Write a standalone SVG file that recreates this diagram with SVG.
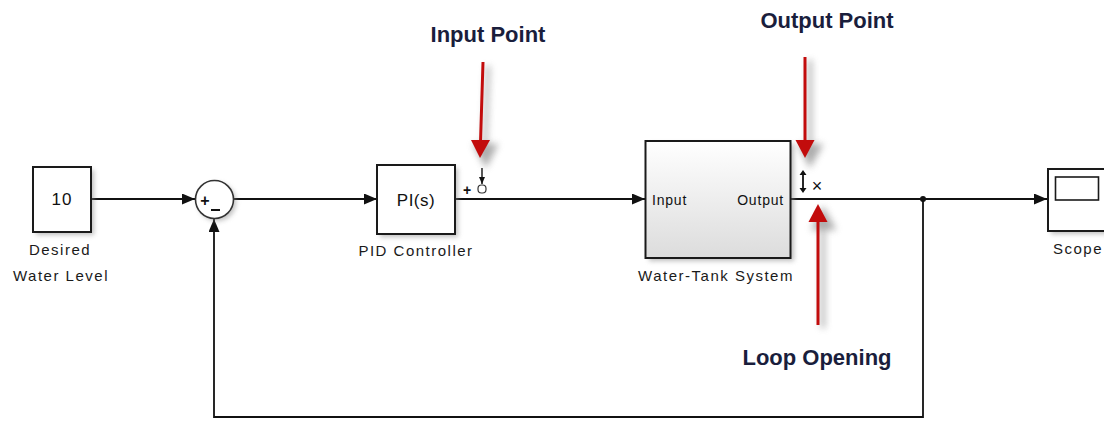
<svg xmlns="http://www.w3.org/2000/svg" width="1104" height="421" viewBox="0 0 1104 421">
<defs>
<style>
.blk{fill:#fff;stroke:#1a1a1a;stroke-width:2}
.lbl{font-family:"Liberation Sans",Arial,sans-serif;font-size:15px;letter-spacing:1.5px;fill:#1a1a1a;text-anchor:middle}
.in{font-family:"Liberation Sans",Arial,sans-serif;font-size:17px;fill:#111;text-anchor:middle}
.port{font-family:"Liberation Sans",Arial,sans-serif;font-size:14px;letter-spacing:0.8px;fill:#111}
.ann{font-family:"Liberation Sans",Arial,sans-serif;font-size:22px;font-weight:bold;fill:#1a1e3c;text-anchor:middle}
.wire{fill:none;stroke:#111;stroke-width:1.8}
.red{stroke:#c20c0c;stroke-width:3;fill:none}
.redh{fill:#c20c0c}
.sh{fill:#888;opacity:0.55;filter:url(#blur)}
</style>
<filter id="blur" x="-30%" y="-30%" width="160%" height="160%"><feGaussianBlur stdDeviation="2.5"/></filter>
<filter id="blur2" x="-50%" y="-50%" width="200%" height="200%"><feGaussianBlur stdDeviation="3.5"/></filter>
<linearGradient id="tank" x1="0" y1="0" x2="0" y2="1"><stop offset="0" stop-color="#ffffff"/><stop offset="1" stop-color="#dcdcdc"/></linearGradient>
<marker id="ah" markerWidth="13" markerHeight="11" refX="13" refY="5.5" orient="auto" markerUnits="userSpaceOnUse"><path d="M0,0 L13,5.5 L0,11 z" fill="#111"/></marker>
<marker id="sa" markerWidth="7" markerHeight="6" refX="7" refY="3" orient="auto" markerUnits="userSpaceOnUse"><path d="M0,0 L7,3 L0,6 z" fill="#111"/></marker>
</defs>
<rect width="1104" height="421" fill="#fff"/>

<g id="connectors">
<line class="wire" x1="91" y1="199" x2="195" y2="199" marker-end="url(#ah)"/>
<line class="wire" x1="234" y1="199" x2="377" y2="199" marker-end="url(#ah)"/>
<line class="wire" x1="455" y1="199" x2="645" y2="199" marker-end="url(#ah)"/>
<line class="wire" x1="790" y1="199" x2="1047" y2="199" marker-end="url(#ah)"/>
<polyline class="wire" points="923,199 923,417 214,417 214,219" marker-end="url(#ah)"/>
<circle cx="923" cy="199" r="3" fill="#111"/>
</g>

<g id="constant">
<rect class="sh" x="36" y="170" width="58" height="65"/>
<rect class="blk" x="33" y="167" width="58" height="65"/>
<text class="in" x="62" y="205" letter-spacing="1">10</text>
<text class="lbl" x="60" y="255">Desired</text>
<text class="lbl" x="61" y="281">Water Level</text>
</g>

<g id="sum">
<circle class="sh" cx="217" cy="202" r="19"/>
<circle cx="214.5" cy="199.5" r="19" fill="#fff" stroke="#333" stroke-width="1.6"/>
<text x="205" y="206" font-family="Liberation Sans,Arial,sans-serif" font-size="16" font-weight="bold" fill="#111" text-anchor="middle">+</text>
<line x1="211" y1="210" x2="220" y2="210" stroke="#111" stroke-width="2"/>
</g>

<g id="pid">
<rect class="sh" x="380" y="168" width="78" height="69"/>
<rect class="blk" x="377" y="165" width="78" height="69"/>
<text class="in" x="416" y="206" letter-spacing="0.5">PI(s)</text>
<text class="lbl" x="416" y="256">PID Controller</text>
</g>

<g id="input-point-marker">
<text x="467" y="195" font-family="Liberation Sans,Arial,sans-serif" font-size="14" font-weight="bold" fill="#111" text-anchor="middle">+</text>
<rect x="478" y="185" width="8" height="8" rx="3.5" fill="#fff" stroke="#333" stroke-width="1.2"/>
<line x1="482" y1="168" x2="482" y2="184" stroke="#111" stroke-width="1.4" marker-end="url(#sa)"/>
</g>

<g id="tank-system">
<rect class="sh" x="649" y="144" width="145" height="117"/>
<rect x="645.5" y="141" width="145" height="117" fill="url(#tank)" stroke="#1a1a1a" stroke-width="2"/>
<text class="port" x="652" y="205">Input</text>
<text class="port" x="784" y="205" text-anchor="end">Output</text>
<text class="lbl" x="716" y="281">Water-Tank System</text>
</g>

<g id="output-point-marker">
<line x1="803" y1="172" x2="803" y2="191" stroke="#111" stroke-width="1.8"/>
<path d="M799.5,175 L803,170 L806.5,175 z M799.5,188 L803,193 L806.5,188 z" fill="#111"/>
<text x="817" y="192" font-family="Liberation Sans,Arial,sans-serif" font-size="18" fill="#111" text-anchor="middle">×</text>
</g>

<g id="scope">
<rect class="sh" x="1051" y="172" width="60" height="62"/>
<rect class="blk" x="1048" y="169" width="60" height="62"/>
<rect x="1055.5" y="177" width="43" height="23" fill="#fff" stroke="#1a1a1a" stroke-width="1.6"/>
<text class="lbl" x="1078" y="254">Scope</text>
</g>

<g id="input-point-annotation">
<text class="ann" x="488" y="42">Input Point</text>
<path d="M488,66 L485,144 M476,146 L495,146 L486,164 z" stroke="#777" stroke-width="4" fill="#777" opacity="0.6" filter="url(#blur2)"/>
<line class="red" x1="483" y1="62" x2="480.5" y2="142"/>
<path class="redh" d="M471,140 L490,140 L480,158 z"/>
</g>

<g id="output-point-annotation">
<text class="ann" x="827" y="28">Output Point</text>
<path d="M810,60 L810,144 M801,146 L820,146 L810,164 z" stroke="#777" stroke-width="4" fill="#777" opacity="0.6" filter="url(#blur2)"/>
<line class="red" x1="805" y1="57" x2="805" y2="142"/>
<path class="redh" d="M795.5,140 L814.5,140 L805,158 z"/>
</g>

<g id="loop-opening-annotation">
<path d="M823,228 L823,328 M814,228 L833,228 L823,210 z" stroke="#777" stroke-width="4" fill="#777" opacity="0.6" filter="url(#blur2)"/>
<line class="red" x1="818" y1="220" x2="818" y2="325"/>
<path class="redh" d="M808.5,222 L827.5,222 L818,204 z"/>
<text class="ann" x="817" y="365">Loop Opening</text>
</g>
</svg>
